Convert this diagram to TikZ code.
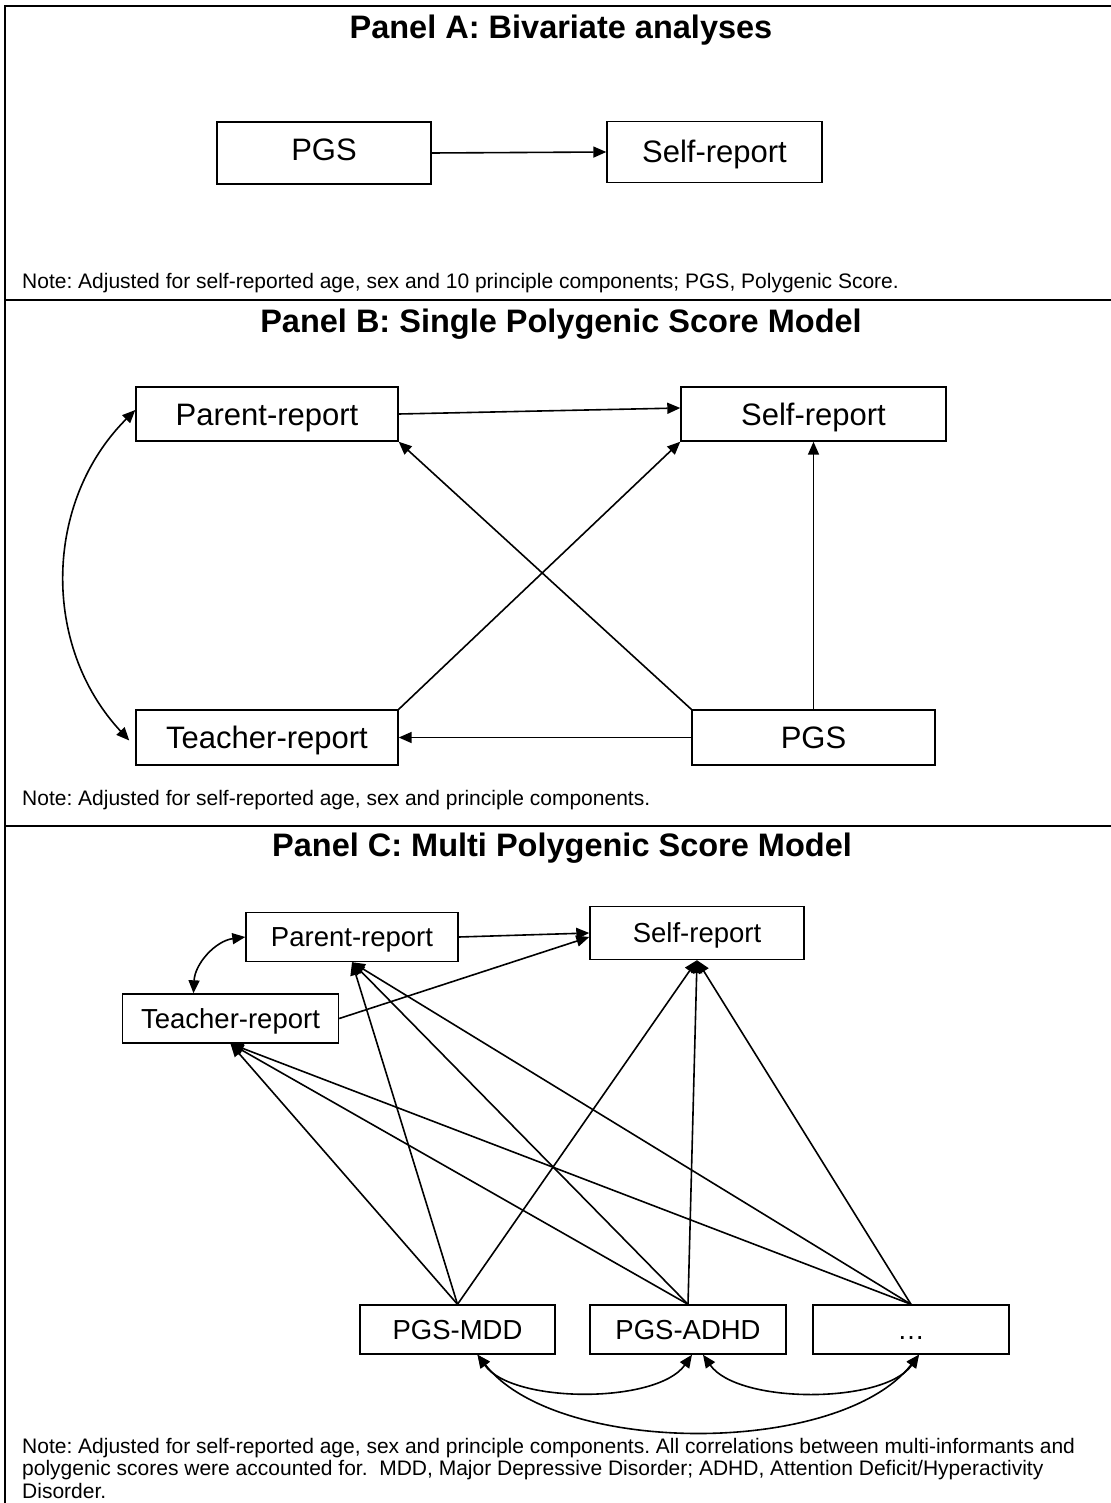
\documentclass[tikz,border=0pt]{standalone}
\usepackage{fontspec}
\setmainfont{Liberation Sans}
\usetikzlibrary{arrows.meta}
\frenchspacing
\begin{document}
\begin{tikzpicture}[x=1pt,y=-1pt,
  frame/.style={line width=1.8pt},
  box/.style={draw, line width=1.4pt, inner sep=0pt, align=center},
  bigtxt/.style={font=\fontsize{31}{31}\selectfont, text height=22pt, text depth=0pt},
  smalltxt/.style={font=\fontsize{27.5}{27.5}\selectfont, text height=19.7pt, text depth=0pt},
  title/.style={anchor=base, font=\fontsize{32.5}{32.5}\selectfont\bfseries},
  note/.style={anchor=base west, inner sep=0pt, font=\fontsize{21}{23.5}\selectfont},
  arr/.style={-{Triangle[length=13pt,width=11pt]}, line width=1.6pt},
  darr/.style={{Triangle[length=13pt,width=11pt]}-{Triangle[length=13pt,width=11pt]}, line width=1.6pt}]

% page
\useasboundingbox (0,0) rectangle (1110,1503);

% panel frame and separators
\draw[frame] (5,1510) -- (5,6) -- (1115,6);
\draw[frame] (5,300) -- (1115,300);
\draw[frame] (5,826) -- (1115,826);

% ---------- Panel A ----------
\node[title] (tA) at (561,39) {Panel A: Bivariate analyses};
\node[box, bigtxt, text height=15pt, minimum width=214pt, minimum height=62pt] (pgsA) at (324,153) {PGS};
\node[box, bigtxt, minimum width=215pt, minimum height=61pt] (selfA) at (714.5,152) {Self-report};
\draw[arr] (pgsA.east) -- (selfA.west);
\node[note] (nA) at (22,289) {Note: Adjusted for self-reported age, sex and 10 principle components; PGS, Polygenic Score.};

% ---------- Panel B ----------
\node[title] (tB) at (561,332) {Panel B: Single Polygenic Score Model};
\node[box, bigtxt, minimum width=262pt, minimum height=54pt] (parB) at (267,414) {Parent-report};
\node[box, bigtxt, minimum width=265pt, minimum height=54pt] (selfB) at (813.5,414) {Self-report};
\node[box, bigtxt, minimum width=262pt, minimum height=55pt] (teachB) at (267,737.5) {Teacher-report};
\node[box, bigtxt, minimum width=243pt, minimum height=55pt] (pgsB) at (813.5,737.5) {PGS};

\draw[arr] (parB.east) -- ([yshift=6pt]selfB.west);
\draw[arr] (teachB.north east) -- (selfB.south west);
\draw[arr] (pgsB.north west) -- (parB.south east);
\draw[arr] (pgsB.north) -- (selfB.south);
\draw[arr] (pgsB.west) -- (teachB.east);
\draw[darr] ([yshift=4pt]parB.west) to[bend right=44] ([xshift=-6pt,yshift=-3pt]teachB.west);
\node[note] (nB) at (22,805) {Note: Adjusted for self-reported age, sex and principle components.};

% ---------- Panel C ----------
\node[title] (tC) at (562,856) {Panel C: Multi Polygenic Score Model};
\node[box, smalltxt, minimum width=212pt, minimum height=49pt] (parC) at (352,937) {Parent-report};
\node[box, smalltxt, minimum width=214pt, minimum height=53pt] (selfC) at (697,933) {Self-report};
\node[box, smalltxt, minimum width=216pt, minimum height=49pt] (teachC) at (230.5,1018.5) {Teacher-report};
\node[box, smalltxt, minimum width=195pt, minimum height=49pt] (mdd) at (457.5,1329.5) {PGS-MDD};
\node[box, smalltxt, minimum width=196pt, minimum height=49pt] (adhd) at (688,1329.5) {PGS-ADHD};
\node[box, smalltxt, minimum width=196pt, minimum height=49pt] (dots) at (911,1329.5) {…};

\draw[arr] (parC.east) -- (selfC.west);
\draw[arr] (teachC.east) -- ([yshift=-4pt]selfC.west);
\draw[darr] ([xshift=-37pt]teachC.north) to[bend left=40] (parC.west);

\foreach \src in {mdd, adhd, dots} {
  \draw[arr] (\src.north) -- (teachC.south);
  \draw[arr] (\src.north) -- (parC.south);
  \draw[arr] (\src.north) -- (selfC.south);
}

\draw[darr] ([xshift=20pt]mdd.south) to[out=-55,in=-125,looseness=0.72] ([xshift=4pt]adhd.south);
\draw[darr] ([xshift=15pt]adhd.south) to[out=-55,in=-125,looseness=0.72] ([xshift=8pt]dots.south);
\draw[darr] ([xshift=20pt]mdd.south) to[out=-52,in=-128,looseness=0.75] ([xshift=8pt]dots.south);

% three-line note of panel C
\node[note] (nC1) at (22,1453) {Note: Adjusted for self-reported age, sex and principle components. All correlations between multi-informants and};
\node[note] (nC2) at (22,1475.5) {polygenic scores were accounted for.\ \ MDD, Major Depressive Disorder; ADHD, Attention Deficit/Hyperactivity};
\node[note] (nC3) at (22,1498) {Disorder.};
\end{tikzpicture}
\end{document}
